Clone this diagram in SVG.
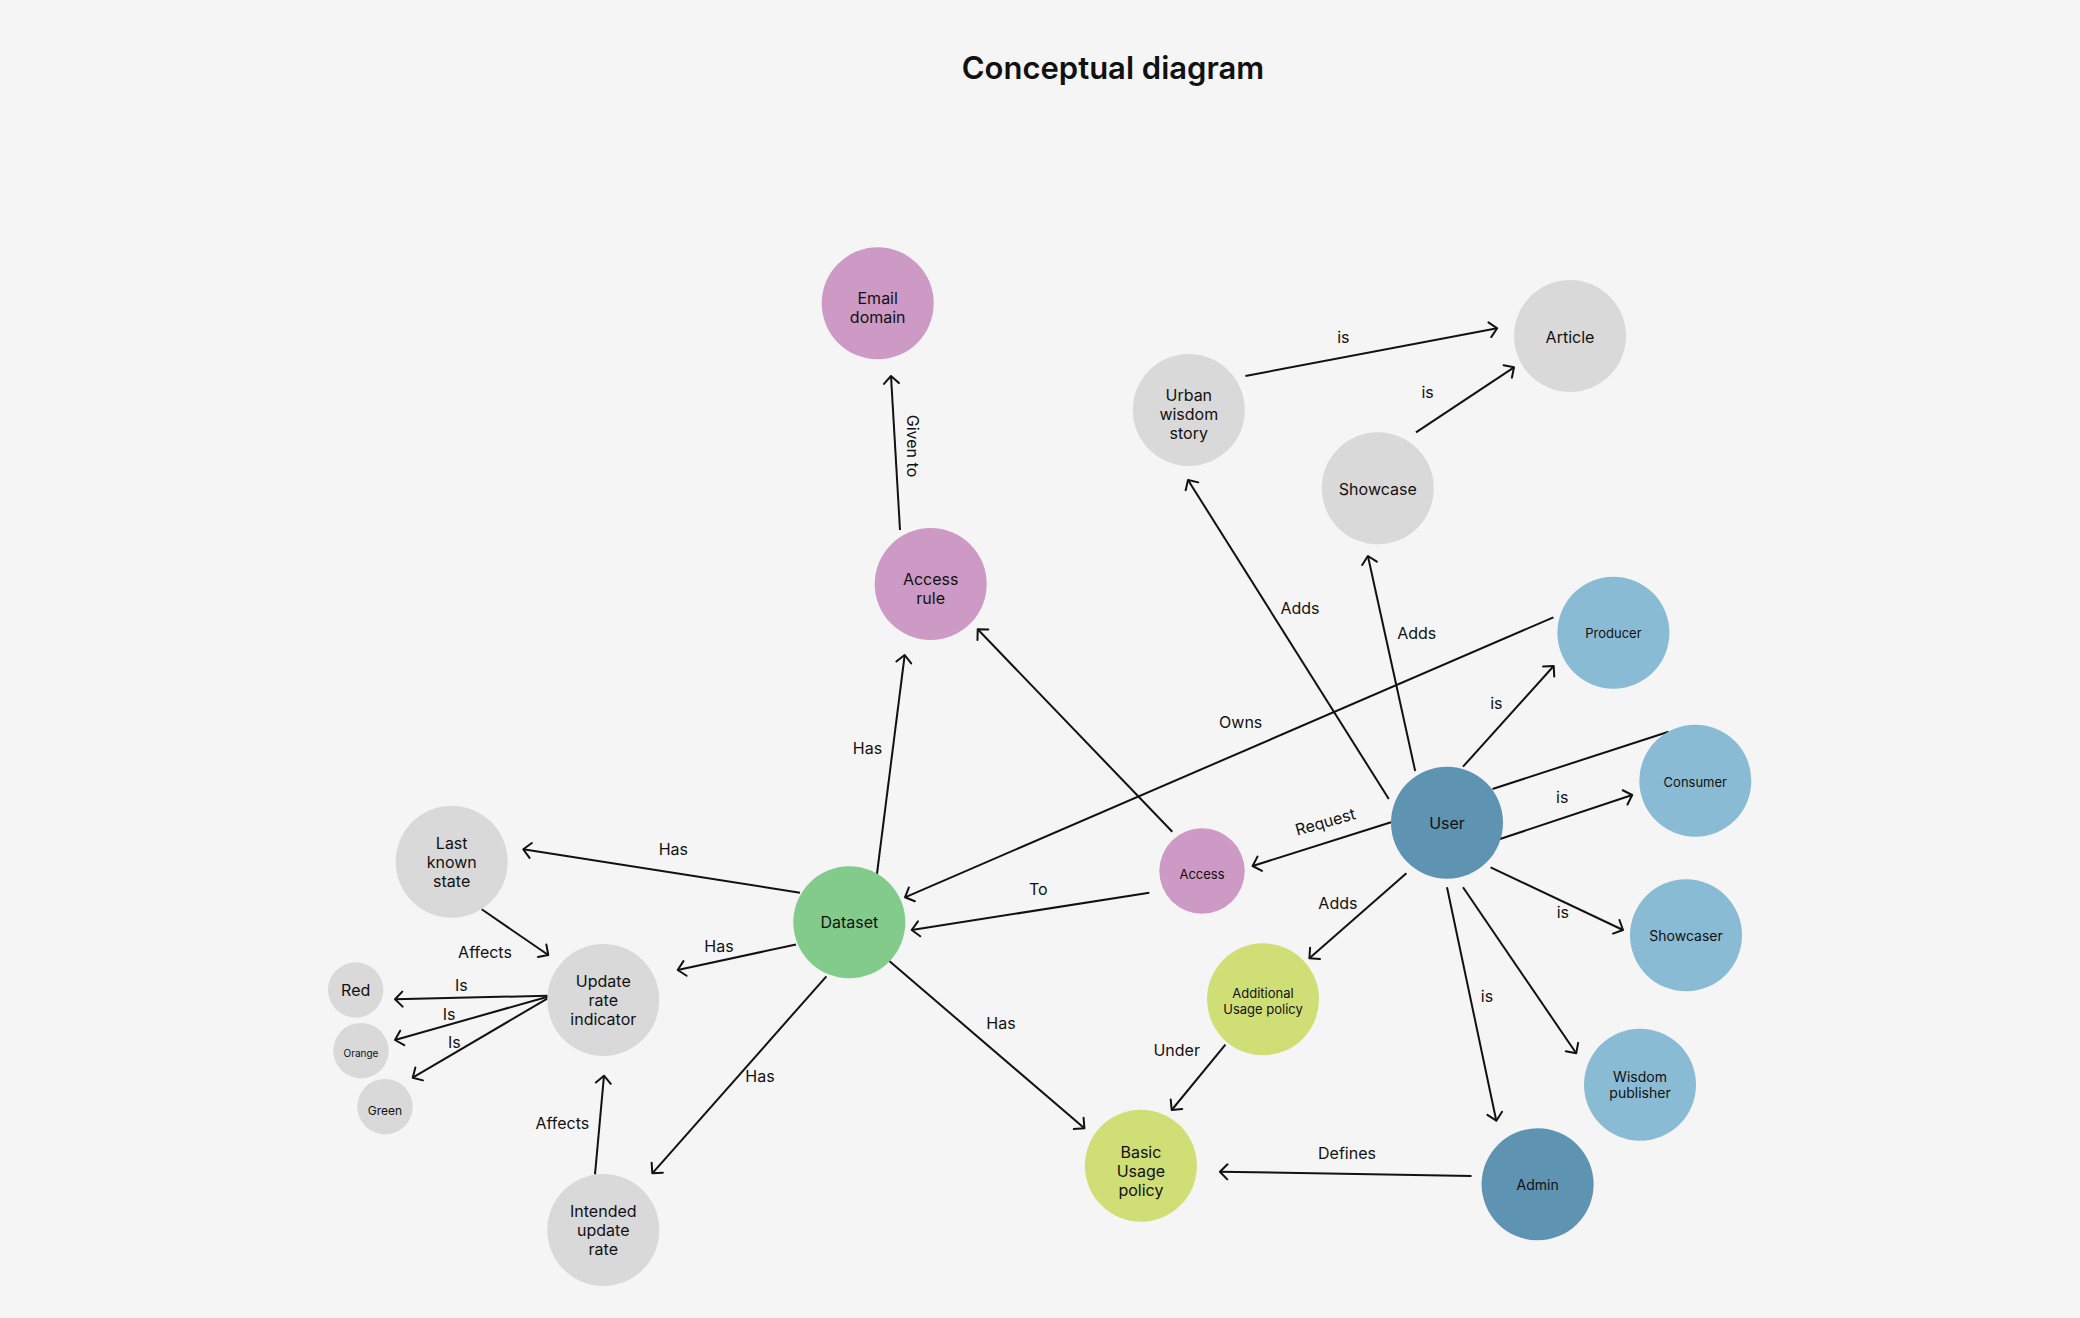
<svg xmlns="http://www.w3.org/2000/svg" width="2080" height="1318" viewBox="0 0 2080 1318">
<defs>
<marker id="arr" markerUnits="userSpaceOnUse" viewBox="-12 -12 24 24" markerWidth="24" markerHeight="24" refX="0" refY="0" orient="auto" overflow="visible">
<path d="M-7.5,-7.5 L0,0 L-7.5,7.5" fill="none" stroke="#111" stroke-width="2" stroke-linecap="round" stroke-linejoin="round"/>
</marker>
<style>
text{font-family:Inter,"Noto Sans","Liberation Sans",sans-serif;fill:#111;text-anchor:middle}
.t{font-size:16px}
.s{font-size:13px}
.m{font-size:14px}
.lbl{font-size:16px}
.e{stroke:#111;stroke-width:2;fill:none}
.ea{stroke:#111;stroke-width:2;fill:none;marker-end:url(#arr)}
.gray{fill:#D9D9D9}
.pink{fill:#CC9AC4}
.green{fill:#82CB8B}
.lblue{fill:#8ABBD4}
.dblue{fill:#5E93B2}
.yel{fill:#D0DE76}
</style>
</defs>
<rect width="2080" height="1318" fill="#F5F5F5"/>
<text x="1113" y="79" style="font-size:31px;font-weight:600">Conceptual diagram</text>

<g id="connectors">
<path class="ea" d="M900,530 L891,376"/>
<path class="ea" d="M876.7,876 L904.7,655"/>
<path class="ea" d="M1172.3,831.7 L977.7,629.3"/>
<path class="ea" d="M1245.4,376 L1497.2,328.3"/>
<path class="ea" d="M1416,432.3 L1514,367.3"/>
<path class="ea" d="M1388.8,799 L1188,480"/>
<path class="ea" d="M1415.2,771 L1367.9,556"/>
<path class="ea" d="M1553.4,617.3 L905,897.3"/>
<path class="ea" d="M1463,766.7 L1553.7,666"/>
<path class="e" d="M1668.6,731.7 L1492.5,789"/>
<path class="ea" d="M1497,840 L1632.2,795"/>
<path class="ea" d="M1391,822.3 L1252.6,866"/>
<path class="ea" d="M1490.6,867.3 L1623,930"/>
<path class="ea" d="M1463,887.3 L1576.2,1053.3"/>
<path class="ea" d="M1447,887.3 L1496.3,1120.7"/>
<path class="ea" d="M1406.4,873.3 L1309.4,958.3"/>
<path class="ea" d="M1225.4,1044.7 L1171.7,1110"/>
<path class="ea" d="M1471.5,1176 L1219.9,1171.7"/>
<path class="ea" d="M889.3,961 L1084.4,1128.3"/>
<path class="ea" d="M1149.3,892.7 L911.7,930"/>
<path class="ea" d="M800,892.7 L523.3,849.3"/>
<path class="ea" d="M796,944.5 L677.7,970"/>
<path class="ea" d="M826.4,976.3 L652.3,1173.3"/>
<path class="ea" d="M481.7,909.3 L548.3,955"/>
<path class="ea" d="M595,1174.3 L604,1075.7"/>
<path class="ea" d="M547.7,995.7 L395,999.3"/>
<path class="ea" d="M547.7,996.7 L395,1040"/>
<path class="ea" d="M547.7,998.3 L412.7,1077.7"/>
<g class="lbl">
<text class="lbl" transform="translate(913,446) rotate(90)" y="5.8">Given to</text>
<text class="lbl" x="867.5" y="753.8">Has</text>
<text class="lbl" x="1343.4" y="343.1">is</text>
<text class="lbl" x="1427.6" y="398.1">is</text>
<text class="lbl" x="1300" y="613.5">Adds</text>
<text class="lbl" x="1416.7" y="639.1">Adds</text>
<text class="lbl" x="1240.7" y="727.5">Owns</text>
<text class="lbl" x="1496.3" y="708.5">is</text>
<text class="lbl" x="1562.2" y="802.5">is</text>
<text class="lbl" transform="translate(1325.3,821.7) rotate(-16)" y="5.8">Request</text>
<text class="lbl" x="1562.9" y="918.1">is</text>
<text class="lbl" x="1487" y="1001.5">is</text>
<text class="lbl" x="1337.9" y="909.1">Adds</text>
<text class="lbl" x="1176.7" y="1055.8">Under</text>
<text class="lbl" x="1347" y="1159.1">Defines</text>
<text class="lbl" x="1001" y="1029.1">Has</text>
<text class="lbl" x="1038.3" y="895.1">To</text>
<text class="lbl" x="673.3" y="855.1">Has</text>
<text class="lbl" x="719" y="951.6">Has</text>
<text class="lbl" x="760" y="1081.6">Has</text>
<text class="lbl" x="485" y="957.5">Affects</text>
<text class="lbl" x="562.3" y="1129.1">Affects</text>
<text class="lbl" x="461.3" y="990.8">Is</text>
<text class="lbl" x="449" y="1019.8">Is</text>
<text class="lbl" x="454.3" y="1047.5">Is</text>
</g>
</g>

<g id="email-domain"><circle class="pink" cx="877.7" cy="303.3" r="56"/><text class="t" x="877.7" y="304.1">Email</text><text class="t" x="877.7" y="323.1">domain</text></g>
<g id="access-rule"><circle class="pink" cx="930.7" cy="584" r="56"/><text class="t" x="930.7" y="584.8">Access</text><text class="t" x="930.7" y="603.8">rule</text></g>
<g id="urban-wisdom-story"><circle class="gray" cx="1188.8" cy="410" r="56"/><text class="t" x="1188.8" y="400.8">Urban</text><text class="t" x="1188.8" y="419.8">wisdom</text><text class="t" x="1188.8" y="438.8">story</text></g>
<g id="article"><circle class="gray" cx="1570" cy="336" r="56"/><text class="t" x="1570" y="342.8">Article</text></g>
<g id="showcase"><circle class="gray" cx="1377.8" cy="488.3" r="56"/><text class="t" x="1377.8" y="495.1">Showcase</text></g>
<g id="producer"><circle class="lblue" cx="1613.4" cy="632.7" r="56"/><text class="s" x="1613.4" y="638.4">Producer</text></g>
<g id="consumer"><circle class="lblue" cx="1695.3" cy="780.7" r="56"/><text class="s" x="1695.3" y="786.9">Consumer</text></g>
<g id="user"><circle class="dblue" cx="1447" cy="822.7" r="56"/><text class="t" x="1447" y="828.5">User</text></g>
<g id="access"><circle class="pink" cx="1202" cy="871" r="42.7"/><text class="s" x="1202" y="878.7">Access</text></g>
<g id="dataset"><circle class="green" cx="849.3" cy="922.3" r="56"/><text class="t" x="849.3" y="928.1">Dataset</text></g>
<g id="showcaser"><circle class="lblue" cx="1686" cy="935.3" r="56"/><text class="m" x="1686" y="941.3">Showcaser</text></g>
<g id="additional-usage-policy"><circle class="yel" cx="1263" cy="999.3" r="56"/><text class="s" x="1263" y="997.5">Additional</text><text class="s" x="1263" y="1013.5">Usage policy</text></g>
<g id="wisdom-publisher"><circle class="lblue" cx="1640" cy="1084.7" r="56"/><text class="m" x="1640" y="1081.7">Wisdom</text><text class="m" x="1640" y="1097.7">publisher</text></g>
<g id="basic-usage-policy"><circle class="yel" cx="1140.9" cy="1165.7" r="56"/><text class="t" x="1140.9" y="1158">Basic</text><text class="t" x="1140.9" y="1177">Usage</text><text class="t" x="1140.9" y="1196">policy</text></g>
<g id="admin"><circle class="dblue" cx="1537.6" cy="1184.3" r="56"/><text class="m" x="1537.6" y="1190.3">Admin</text></g>
<g id="last-known-state"><circle class="gray" cx="451.7" cy="861.7" r="56"/><text class="t" x="451.7" y="848.5">Last</text><text class="t" x="451.7" y="867.5">known</text><text class="t" x="451.7" y="886.5">state</text></g>
<g id="update-rate-indicator"><circle class="gray" cx="603.3" cy="1000" r="56"/><text class="t" x="603.3" y="986.8">Update</text><text class="t" x="603.3" y="1005.8">rate</text><text class="t" x="603.3" y="1024.8">indicator</text></g>
<g id="intended-update-rate"><circle class="gray" cx="603.3" cy="1230" r="56"/><text class="t" x="603.3" y="1216.8">Intended</text><text class="t" x="603.3" y="1235.8">update</text><text class="t" x="603.3" y="1254.8">rate</text></g>
<g id="red"><circle class="gray" cx="355.7" cy="990" r="27.7"/><text class="t" x="355.7" y="996.3">Red</text></g>
<g id="orange"><circle class="gray" cx="361" cy="1050.7" r="27.7"/><text x="361" y="1057.3" style="font-size:10px">Orange</text></g>
<g id="green"><circle class="gray" cx="385" cy="1106.7" r="27.7"/><text x="385" y="1115" style="font-size:12px">Green</text></g>
</svg>
